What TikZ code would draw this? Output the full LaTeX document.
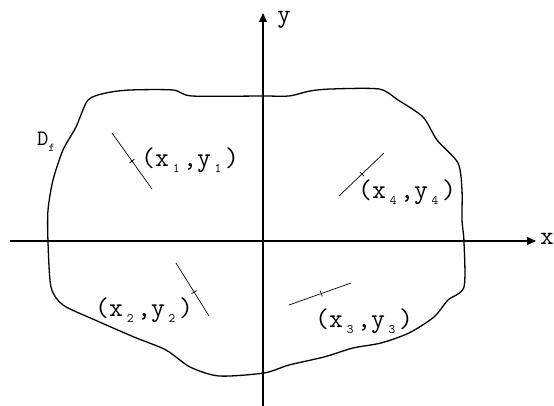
\documentclass[tikz,border=0pt]{standalone}
\usetikzlibrary{arrows.meta,calc}
\newcommand\lsub[1]{\makebox[0.525em]{\raisebox{-0.22em}{\fontsize{13pt}{13pt}\selectfont #1}}}
\tikzset{
  axis/.style={line width=1.1pt,-{Triangle[length=9pt,width=8pt]}},
  blob/.style={line width=1.3pt},
  seg/.style={line width=0.7pt},
  tick/.style={line width=0.7pt},
  lbl/.style={font=\ttfamily\fontsize{27pt}{27pt}\selectfont, inner sep=0pt, anchor=west},
  axlbl/.style={font=\ttfamily\fontsize{26pt}{26pt}\selectfont, inner sep=0pt},
}
\begin{document}
\begin{tikzpicture}[x=1pt,y=-1pt]
\useasboundingbox (0,0) rectangle (554,406);
% axes
\coordinate (xl) at (10,241);
\coordinate (xr) at (536,241);
\coordinate (yb) at (263,406);
\coordinate (yt) at (263,13);
\draw[axis] (xl) -- (xr);
\draw[axis] (yb) -- (yt);
\node[axlbl] (xlab) at (547,239) {x};
\node[axlbl] (ylab) at (284,20) {y};
% region
\draw[blob] plot[smooth cycle, tension=0.45] coordinates {
(88,100) (106,93) (130,90) (173,90) (192,96) (263,96) (289,96) (310,91) (331,89) (379,89)
(398,100) (423,117) (437,140) (458,163) (462,190) (462,220) (464,242) (464,287) (448,300)
(434,317) (409,333) (381,343) (353,348) (324,357) (289,365) (264,373) (219,376) (190,367)
(166,350) (134,337) (95,320) (63,305) (51,287) (48,242) (48,210) (53,180) (63,150) (76,127)};
\node[font=\ttfamily\fontsize{22pt}{22pt}\selectfont, inner sep=0pt] (df) at (46,142) {D\raisebox{-0.25em}{\fontsize{12pt}{12pt}\selectfont f}};
% segments
\coordinate (a1) at (112,133); \coordinate (b1) at (152,189);
\coordinate (a2) at (176,263); \coordinate (b2) at (209,316);
\coordinate (a3) at (289,305); \coordinate (b3) at (351,283);
\coordinate (a4) at (339,196); \coordinate (b4) at (384,153);
\coordinate (t1) at ($(a1)!0.5!(b1)$);
\coordinate (t2) at ($(a2)!0.55!(b2)$);
\coordinate (t3) at ($(a3)!0.52!(b3)$);
\coordinate (t4) at ($(a4)!0.51!(b4)$);
\foreach \i in {1,2,3,4}{
  \draw[seg] (a\i) -- (b\i);
  \draw[tick] ($(t\i)!3pt!90:(b\i)$) -- ($(t\i)!3pt!-90:(b\i)$);
}
% labels
\node[lbl] (p1) at (141,160) {(x\lsub1,y\lsub1)};
\node[lbl] (p2) at (95,310) {(x\lsub2,y\lsub2)};
\node[lbl] (p3) at (315,321) {(x\lsub3,y\lsub3)};
\node[lbl] (p4) at (358,192) {(x\lsub4,y\lsub4)};
\end{tikzpicture}
\end{document}
